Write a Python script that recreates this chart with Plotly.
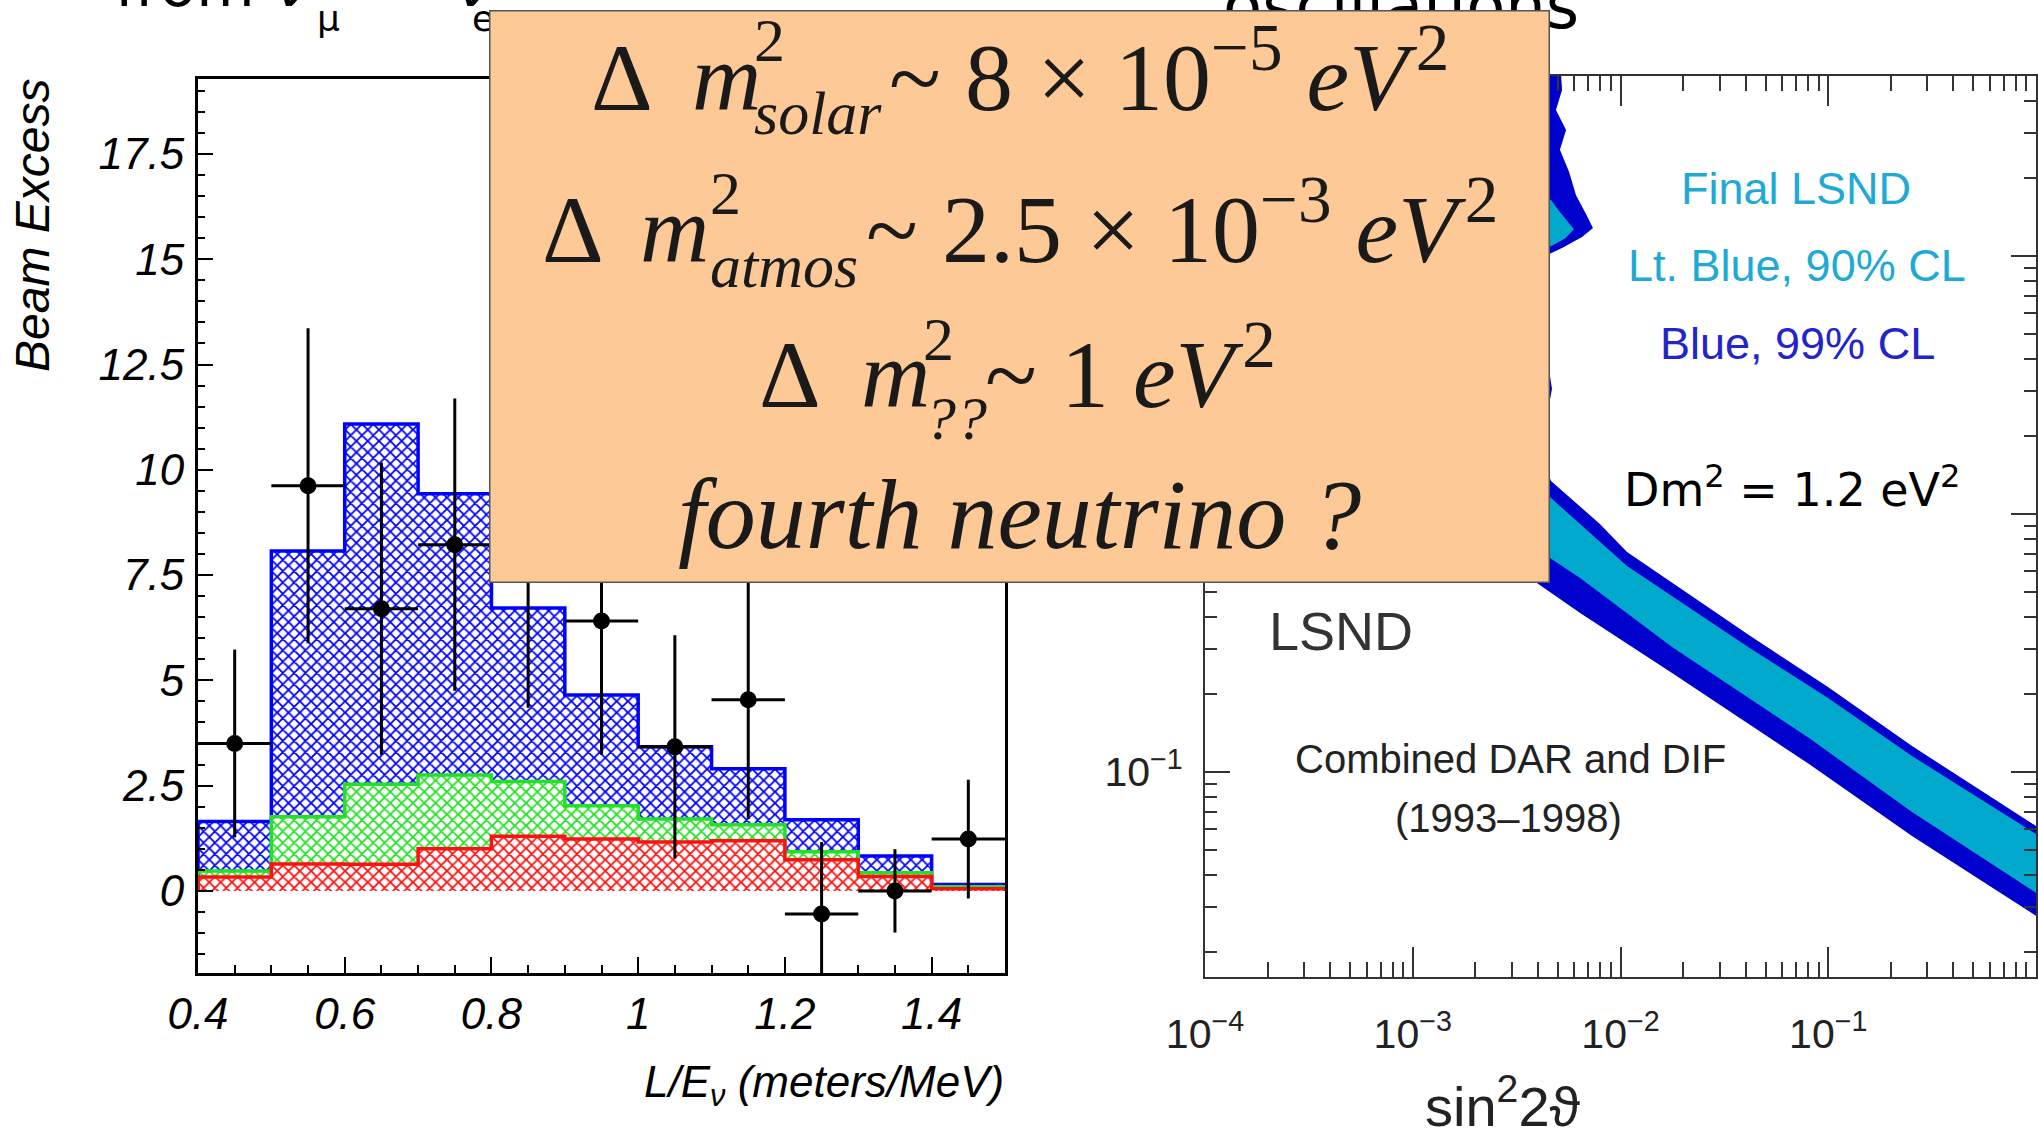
import plotly.graph_objects as go

W, H = 2038, 1131

# ---------------- Left panel: L/E histogram ----------------
bin_edges = [0.4, 0.5, 0.6, 0.7, 0.8, 0.9, 1.0, 1.1, 1.2, 1.3, 1.4, 1.5]
bin_centers = [0.45, 0.55, 0.65, 0.75, 0.85, 0.95, 1.05, 1.15, 1.25, 1.35, 1.45]
red_top = [0.33, 0.64, 0.63, 1.00, 1.30, 1.23, 1.16, 1.19, 0.74, 0.34, 0.05]
green_top = [0.47, 1.76, 2.53, 2.75, 2.60, 2.02, 1.71, 1.57, 0.93, 0.43, 0.10]
blue_top = [1.65, 8.07, 11.09, 9.43, 6.72, 4.65, 3.42, 2.90, 1.69, 0.83, 0.15]
data_y = [3.50, 9.62, 6.70, 8.22, 7.90, 6.41, 3.42, 4.54, -0.55, 0.00, 1.23]
data_err = [2.23, 3.74, 3.47, 3.47, 3.55, 3.18, 2.65, 2.83, 1.71, 0.99, 1.41]
left_yticks = [0, 2.5, 5, 7.5, 10, 12.5, 15, 17.5]
left_yticktext = ["0", "2.5", "5", "7.5", "10", "12.5", "15", "17.5"]
left_xticks = [0.4, 0.6, 0.8, 1.0, 1.2, 1.4]
left_xticktext = ["0.4", "0.6", "0.8", "1", "1.2", "1.4"]

# ---------------- Right panel: LSND allowed region ----------------
cl99_sin2 = [1.08e-3, 5.11e-3, 5.23e-3, 4.89e-3, 5.47e-3, 5.11e-3, 5.65e-3, 6.11e-3,
             6.82e-3, 7.37e-3, 6.53e-3, 5.23e-3, 4.33e-3, 4.10e-3, 4.38e-3, 4.68e-3,
             4.38e-3, 4.43e-3, 4.63e-3, 7.96e-3, 1.075e-2, 1.693e-2, 4.20e-2, 0.0997,
             0.253, 1.0, 1.458, 1.458, 1.0, 0.253, 0.0808, 0.0177, 6.39e-3, 3.96e-3,
             2.36e-3, 1.35e-3, 1.08e-3, 1.08e-3]
cl99_dm2 = [60, 60, 44.0, 36.8, 30.8, 25.8, 21.2, 17.2,
            14.55, 12.84, 11.85, 10.74, 10.0, 6.75, 4.32, 3.05,
            2.31, 1.48, 1.342, 0.915, 0.712, 0.555, 0.337, 0.2135,
            0.126, 0.0618, 0.0517, 0.0233, 0.0277, 0.0565, 0.1074, 0.242, 0.413, 0.540,
            0.725, 1.133, 2.77, 60]
cl90_sin2 = [1.511e-3, 4.63e-3, 1.075e-2, 4.20e-2, 0.0997, 0.253, 1.0, 1.458,
             1.458, 1.0, 0.253, 0.0808, 0.0177, 6.39e-3, 4.73e-3, 2.63e-3, 1.511e-3, 1.511e-3]
cl90_dm2 = [2.31, 1.153, 0.629, 0.302, 0.1935, 0.1153, 0.0575, 0.0507,
            0.0287, 0.034, 0.070, 0.1354, 0.305, 0.565, 0.6634, 0.906, 1.239, 2.31]
cl90b_sin2 = [2.11e-3, 4.63e-3, 5.11e-3, 5.97e-3, 5.41e-3, 4.63e-3, 2.11e-3, 2.11e-3]
cl90b_dm2 = [18.0, 16.5, 14.8, 12.7, 11.7, 10.9, 10.55, 18.0]
right_xticks = [1e-4, 1e-3, 1e-2, 1e-1, 1]
right_xticktext = ["10<sup>\u22124</sup>", "10<sup>\u22123</sup>", "10<sup>\u22122</sup>",
                   "10<sup>\u22121</sup>", "1"]
right_yticks = [0.1, 1, 10]
right_yticktext = ["10<sup>\u22121</sup>", "1", "10"]
right_xminor = [k * 10.0 ** e for e in range(-4, 0) for k in range(2, 10)]
right_yminor = [k * 10.0 ** e for e in range(-2, 2) for k in range(2, 10)]

BLUE = "#0000ff"
GREEN = "#22e022"
RED = "#ff1010"
DKBLUE = "#0000cc"
LTBLUE = "#00a8cc"

fig = go.Figure()

# stacked hatched histograms
layers = [
    (RED, [0] * 11, red_top),
    (GREEN, red_top, [g - r for g, r in zip(green_top, red_top)]),
    (BLUE, green_top, [b - g for b, g in zip(blue_top, green_top)]),
]
for col, base, hgt in layers:
    fig.add_trace(go.Bar(
        x=bin_centers, y=hgt, base=base, width=0.1,
        marker=dict(color="white", line=dict(width=0),
                    pattern=dict(shape="x", fgcolor=col, bgcolor="white",
                                 size=8, solidity=0.4)),
        xaxis="x", yaxis="y", hoverinfo="skip"))

for col, vals in [(BLUE, blue_top), (GREEN, green_top), (RED, red_top)]:
    xs = [bin_edges[0]] + bin_edges[:-1] + [bin_edges[-1], bin_edges[-1]]
    ys = [0] + vals + [vals[-1], 0]
    fig.add_trace(go.Scatter(x=xs, y=ys, mode="lines", line=dict(color=col, width=3.5, shape="hv"),
                             xaxis="x", yaxis="y", hoverinfo="skip"))

fig.add_trace(go.Scatter(
    x=bin_centers, y=data_y, mode="markers",
    marker=dict(color="black", size=17),
    error_x=dict(type="constant", value=0.05, width=0, thickness=3, color="black"),
    error_y=dict(type="data", array=data_err, width=0, thickness=3, color="black"),
    xaxis="x", yaxis="y", hoverinfo="skip"))

# LSND regions
fig.add_trace(go.Scatter(x=cl99_sin2, y=cl99_dm2, mode="lines", fill="toself",
                         fillcolor=DKBLUE, line=dict(width=0, color=DKBLUE),
                         xaxis="x2", yaxis="y2", hoverinfo="skip"))
fig.add_trace(go.Scatter(x=cl90_sin2, y=cl90_dm2, mode="lines", fill="toself",
                         fillcolor=LTBLUE, line=dict(width=0, color=LTBLUE),
                         xaxis="x2", yaxis="y2", hoverinfo="skip"))
fig.add_trace(go.Scatter(x=cl90b_sin2, y=cl90b_dm2, mode="lines", fill="toself",
                         fillcolor=LTBLUE, line=dict(width=0, color=LTBLUE),
                         xaxis="x2", yaxis="y2", hoverinfo="skip"))

SANS = "Liberation Sans"
SERIF = "Liberation Serif"
DV = "DejaVu Sans"

fig.update_layout(
    template="none",
    width=W, height=H, margin=dict(l=0, r=0, t=0, b=0, pad=0, autoexpand=False),
    paper_bgcolor="white", plot_bgcolor="white", showlegend=False,
    barmode="overlay", bargap=0,
    font=dict(family=SANS, color="black"),
    xaxis=dict(domain=[198 / W, 1005 / W], range=[0.4, 1.5], anchor="y", automargin=False,
               tickmode="array", tickvals=left_xticks, ticktext=left_xticktext,
               ticks="inside", ticklen=16, tickwidth=2, tickcolor="black",
               minor=dict(dtick=0.05, tick0=0.4, ticks="inside", ticklen=8, tickwidth=1.5,
                          tickcolor="black", showgrid=False),
               showline=True, linecolor="black", linewidth=3, mirror=True,
               showgrid=False, zeroline=False, ticklabelstandoff=0,
               tickfont=dict(family=SANS, size=44, style="italic", color="black")),
    yaxis=dict(domain=[1 - 973 / H, 1 - 79 / H], range=[-1.95, 19.28], anchor="x", automargin=False,
               tickmode="array", tickvals=left_yticks, ticktext=left_yticktext,
               ticks="inside", ticklen=15, tickwidth=2, tickcolor="black",
               minor=dict(dtick=0.5, tick0=0, ticks="inside", ticklen=7, tickwidth=1.5,
                          tickcolor="black", showgrid=False),
               showline=True, linecolor="black", linewidth=3, mirror=True,
               showgrid=False, zeroline=False, ticklabelstandoff=2,
               tickfont=dict(family=SANS, size=44, style="italic", color="black")),
    xaxis2=dict(domain=[1205 / W, 2036 / W], type="log", range=[-4, 0], anchor="y2",
                automargin=False,
                tickmode="array", tickvals=right_xticks, ticktext=right_xticktext,
                ticks="inside", ticklen=30, tickwidth=1.5, tickcolor="#333",
                minor=dict(tickmode="array", tickvals=right_xminor, ticks="inside",
                           ticklen=15, tickwidth=1.5, tickcolor="#333", showgrid=False),
                showline=True, linecolor="#333", linewidth=2, mirror="allticks",
                showgrid=False, zeroline=False, ticklabelstandoff=20,
                tickfont=dict(family=SANS, size=41, color="#222")),
    yaxis2=dict(domain=[1 - 977 / H, 1 - 76 / H], type="log", range=[-1.7946, 1.6977],
                anchor="x2", automargin=False,
                tickmode="array", tickvals=right_yticks, ticktext=right_yticktext,
                ticks="inside", ticklen=25, tickwidth=1.5, tickcolor="#333",
                minor=dict(tickmode="array", tickvals=right_yminor, ticks="inside",
                           ticklen=12, tickwidth=1.5, tickcolor="#333", showgrid=False),
                showline=True, linecolor="#333", linewidth=2, mirror="allticks",
                showgrid=False, zeroline=False, ticklabelstandoff=12,
                tickfont=dict(family=SANS, size=41, color="#222")),
)


def ann(text, x, y, size, family=SANS, color="black", xanchor="center", yanchor="bottom", **kw):
    d = dict(text=text, x=x / W, y=1 - y / H, xref="paper", yref="paper",
             xanchor=xanchor, yanchor=yanchor, showarrow=False, borderpad=0,
             font=dict(family=family, size=size, color=color))
    d.update(kw)
    fig.add_annotation(**d)


# slide title fragments (cut off at the top)
ann("from \u03bd", 114, 21, 60, DV, xanchor="left")
ann("\u03bc", 328, 40, 36, DV)
ann("\u2192 \u03bd", 490, 21, 60, DV, xanchor="right")
ann("e", 483, 40, 36, DV)
ann("oscillations", 1580, 44, 64, DV, xanchor="right")

# axis titles
ann("<i>Beam Excess</i>", 32, 226, 48, SANS, yanchor="middle", textangle=-90)
ann("<i>L/E<sub>\u03bd</sub> (meters/MeV)</i>", 1005, 1114, 44, SANS, xanchor="right")
ann("sin<sup>2</sup>2\u03d1", 1503, 1139, 56, SANS, color="#222")

# right panel texts
ann("Final LSND", 1796, 215, 45, SANS, color="#1eaad4")
ann("Lt. Blue, 90% CL", 1797, 292, 45, SANS, color="#1eaad4")
ann("Blue, 99% CL", 1797, 370, 45, SANS, color="#2424cc")
ann("Dm<sup>2</sup> = 1.2 eV<sup>2</sup>", 1792, 518, 46, DV, color="black")
ann("LSND", 1268, 662, 54, SANS, color="#333", xanchor="left")
ann("Combined DAR and DIF", 1510, 782, 40, SANS, color="#222")
ann("(1993\u20131998)", 1508, 841, 40, SANS, color="#222")

# orange box
ann(" ", 489, 9.5, 10, SANS, xanchor="left", yanchor="top", width=1058, height=570,
    bgcolor="#fdc997", bordercolor="#555", borderwidth=1.5)

TXT = "#1a1a1a"
S, s = 96, 62
# line 1
ann("\u0394", 590, 111 + 0.216 * S, S, SERIF, TXT, xanchor="left")
ann("<i>m</i>", 762, 111 + 0.216 * S, S, SERIF, TXT, xanchor="right")
ann("2", 753, 62 + 0.216 * s, s, SERIF, TXT, xanchor="left")
ann("<i>solar</i>", 753, 135 + 0.216 * s, s, SERIF, TXT, xanchor="left")
ann("~ 8 \u00d7 10<sup>\u22125</sup> <i>eV</i>\u200a<sup>2</sup>", 888, 111 + 0.216 * S, S, SERIF, TXT,
    xanchor="left")
# line 2
ann("\u0394", 541, 263 + 0.216 * S, S, SERIF, TXT, xanchor="left")
ann("<i>m</i>", 710, 263 + 0.216 * S, S, SERIF, TXT, xanchor="right")
ann("2", 709, 215 + 0.216 * s, s, SERIF, TXT, xanchor="left")
ann("<i>atmos</i>", 709, 288 + 0.216 * s, s, SERIF, TXT, xanchor="left")
ann("~ 2.5 \u00d7 10<sup>\u22123</sup> <i>eV</i>\u200a<sup>2</sup>", 865, 263 + 0.216 * S, S, SERIF, TXT,
    xanchor="left")
# line 3
ann("\u0394", 758, 408 + 0.216 * S, S, SERIF, TXT, xanchor="left")
ann("<i>m</i>", 931, 408 + 0.216 * S, S, SERIF, TXT, xanchor="right")
ann("2", 922, 361 + 0.216 * s, s, SERIF, TXT, xanchor="left")
ann("<i>??</i>", 924, 440 + 0.216 * s, s, SERIF, TXT, xanchor="left")
ann("~ 1 <i>eV</i>\u200a<sup>2</sup>", 984, 408 + 0.216 * S, S, SERIF, TXT, xanchor="left")
# line 4
ann("<i>fourth neutrino ?</i>", 1019, 549 + 0.216 * 100, 100, SERIF, TXT)

fig.write_html("out.html")
